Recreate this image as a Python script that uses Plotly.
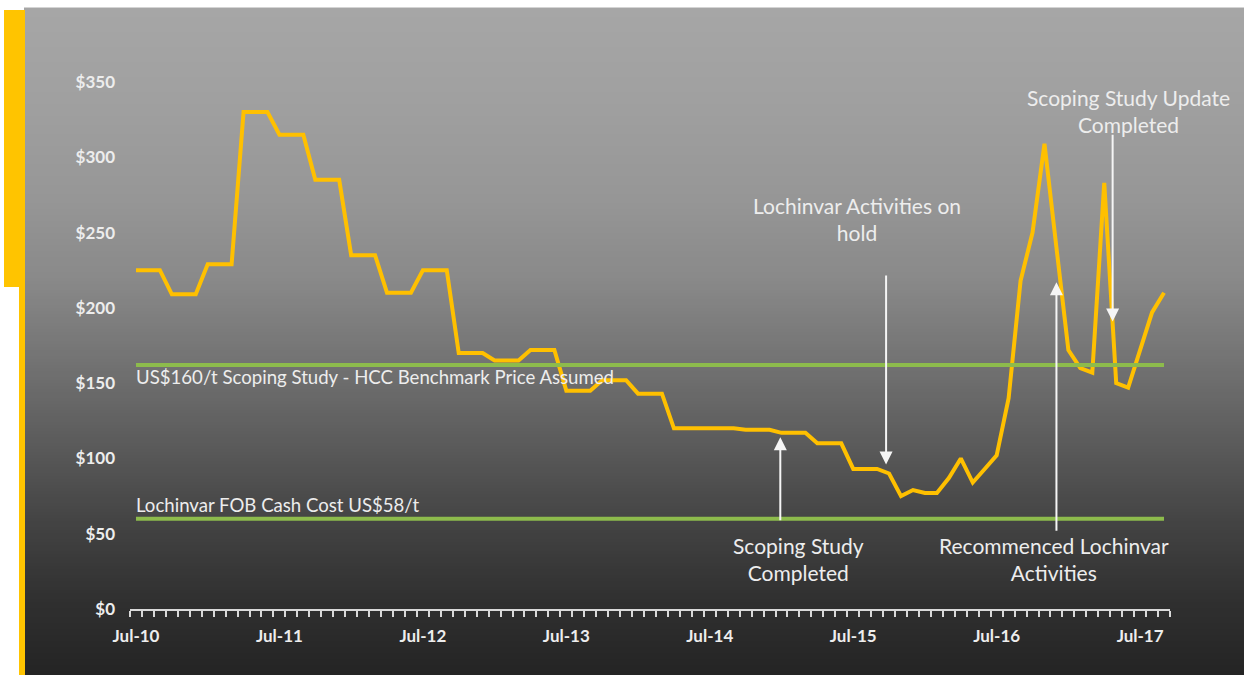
import pandas as pd
import plotly.graph_objects as go

# ---------------- data ----------------
months = list(pd.date_range("2010-07-01", periods=87, freq="MS").strftime("%b-%y"))
price = [
    225, 225, 225, 209, 209, 209, 229, 229, 229, 330, 330, 330,   # Jul-10 .. Jun-11
    315, 315, 315, 285, 285, 285, 235, 235, 235, 210, 210, 210,   # Jul-11 .. Jun-12
    225, 225, 225, 170, 170, 170, 165, 165, 165, 172, 172, 172,   # Jul-12 .. Jun-13
    145, 145, 145, 152, 152, 152, 143, 143, 143, 120, 120, 120,   # Jul-13 .. Jun-14
    120, 120, 120, 119, 119, 119, 117, 117, 117, 110, 110, 110,   # Jul-14 .. Jun-15
    93, 93, 93, 90, 75, 79, 77, 77, 87, 100, 84, 93,              # Jul-15 .. Jun-16
    102, 140, 218, 250, 309, 240, 172, 160, 157, 283, 150, 147,   # Jul-16 .. Jun-17
    172, 197, 210,                                                # Jul-17 .. Sep-17
]
benchmark_price = 162      # US$160/t scoping study benchmark line (as drawn)
cash_cost = 60             # Lochinvar FOB cash cost line (as drawn)
tick_labels = ["Jul-10", "Jul-11", "Jul-12", "Jul-13", "Jul-14", "Jul-15", "Jul-16", "Jul-17"]
y_ticks = [0, 50, 100, 150, 200, 250, 300, 350]

idx = list(range(len(months)))
label_pos = [months.index(t) for t in tick_labels]

# ---------------- layout geometry helpers ----------------
W, H = 1246, 675
L, R, T, B = 130, 76, 82, 66
PW, PH = W - L - R, H - T - B


def px_x(p):
    return (p - L) / PW


def px_y(p):
    return (H - B - p) / PH


# gradient background bands
stops = [(8, 166), (100, 160), (200, 150), (280, 137), (360, 115),
         (440, 92), (520, 68), (600, 48), (675, 36)]


def gray_at(y):
    for (y0, g0), (y1, g1) in zip(stops[:-1], stops[1:]):
        if y0 <= y <= y1:
            return g0 + (g1 - g0) * (y - y0) / (y1 - y0)
    return stops[-1][1]


shapes = []
yy = 8
step = 3
while yy < 675:
    g = int(round(gray_at(yy + step / 2)))
    shapes.append(dict(type="rect", xref="paper", yref="paper", layer="below",
                       x0=px_x(24), x1=px_x(1244), y0=px_y(min(yy + step + 0.6, 676)), y1=px_y(yy),
                       fillcolor=f"rgb({g},{g},{g})", line=dict(width=0)))
    yy += step
# thin light line at top of panel
shapes.append(dict(type="line", xref="paper", yref="paper", layer="below",
                   x0=px_x(24), x1=px_x(1244), y0=px_y(7.5), y1=px_y(7.5),
                   line=dict(color="#d4d4d4", width=1)))
# yellow accent bars on the left
shapes.append(dict(type="rect", xref="paper", yref="paper", layer="below",
                   x0=px_x(4), x1=px_x(25), y0=px_y(287), y1=px_y(10),
                   fillcolor="#FFC400", line=dict(width=0)))
shapes.append(dict(type="rect", xref="paper", yref="paper", layer="below",
                   x0=px_x(19), x1=px_x(25), y0=px_y(676), y1=px_y(286),
                   fillcolor="#FFC400", line=dict(width=0)))

fig = go.Figure()

fig.add_trace(go.Scatter(x=idx, y=price, mode="lines",
                         line=dict(color="#FFC000", width=4), hoverinfo="skip"))
fig.add_trace(go.Scatter(x=[idx[0], idx[-1]], y=[benchmark_price, benchmark_price], mode="lines",
                         line=dict(color="#8DBB4C", width=4), hoverinfo="skip"))
fig.add_trace(go.Scatter(x=[idx[0], idx[-1]], y=[cash_cost, cash_cost], mode="lines",
                         line=dict(color="#8DBB4C", width=4), hoverinfo="skip"))

FONT = "Lato, 'Open Sans', sans-serif"
TXT = "#EDEDED"

annotations = [
    # line labels
    dict(x=-0.2, y=154, xref="x", yref="y", xanchor="left", yanchor="middle", showarrow=False,
         text="US$160/t Scoping Study - HCC Benchmark Price Assumed",
         font=dict(family=FONT, size=18.6, color=TXT)),
    dict(x=-0.2, y=69, xref="x", yref="y", xanchor="left", yanchor="middle", showarrow=False,
         text="Lochinvar FOB Cash Cost US$58/t",
         font=dict(family=FONT, size=18.6, color=TXT)),
    # event texts
    dict(x=60.3, y=259, xref="x", yref="y", xanchor="center", yanchor="middle", showarrow=False,
         align="center", text="Lochinvar Activities on<br>hold",
         font=dict(family=FONT, size=21, color=TXT)),
    dict(x=55.4, y=33, xref="x", yref="y", xanchor="center", yanchor="middle", showarrow=False,
         align="center", text="Scoping Study<br>Completed",
         font=dict(family=FONT, size=21, color=TXT)),
    dict(x=76.8, y=33, xref="x", yref="y", xanchor="center", yanchor="middle", showarrow=False,
         align="center", text="Recommenced Lochinvar<br>Activities",
         font=dict(family=FONT, size=21, color=TXT)),
    dict(x=83.0, y=331, xref="x", yref="y", xanchor="center", yanchor="middle", showarrow=False,
         align="center", text="Scoping Study Update<br>Completed",
         font=dict(family=FONT, size=21, color=TXT)),
]

arrows = [
    (62.75, 222.5, 96),
    (53.9, 58, 114),
    (77.0, 51, 217),
    (81.7, 316, 191),
]
for ax_, tail, head in arrows:
    annotations.append(dict(x=ax_, y=head, ax=ax_, ay=tail, xref="x", yref="y",
                            axref="x", ayref="y", text="", showarrow=True,
                            arrowhead=2, arrowsize=1.3, arrowwidth=2, arrowcolor="#F5F5F5"))

fig.update_layout(
    width=W, height=H,
    margin=dict(l=L, r=R, t=T, b=B),
    paper_bgcolor="white",
    plot_bgcolor="rgba(0,0,0,0)",
    showlegend=False,
    shapes=shapes,
    annotations=annotations,
    xaxis=dict(
        range=[-0.5, len(months) - 0.5],
        tickmode="array", tickvals=label_pos, ticktext=tick_labels,
        ticks="", showgrid=False, zeroline=False,
        showline=True, linecolor="#D9D9D9", linewidth=1.5,
        tickfont=dict(family=FONT, size=17, color=TXT, weight="bold"),
        ticklabelstandoff=11,
        minor=dict(ticks="outside", tickmode="linear", tick0=-0.5, dtick=1,
                   ticklen=6, tickwidth=1.5, tickcolor="#D9D9D9", showgrid=False),
        fixedrange=True,
    ),
    yaxis=dict(
        range=[0, 350],
        tickmode="array", tickvals=y_ticks, ticktext=[f"${v}" for v in y_ticks],
        ticks="", showgrid=False, zeroline=False, showline=False,
        tickfont=dict(family=FONT, size=17, color=TXT, weight="bold"),
        ticklabelstandoff=14,
        fixedrange=True,
    ),
)

fig.write_html("out.html")
